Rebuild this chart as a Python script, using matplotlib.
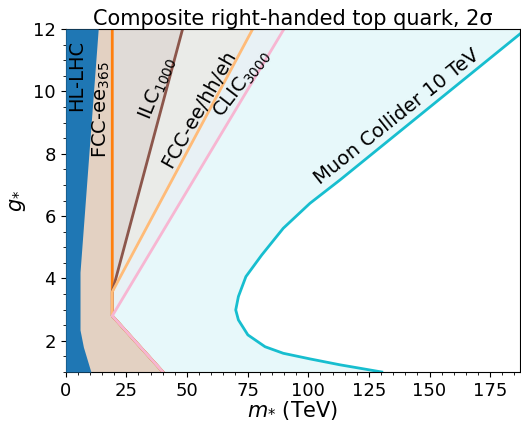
import matplotlib
matplotlib.use("Agg")
import matplotlib.pyplot as plt
from matplotlib.ticker import MultipleLocator

# HL-LHC exclusion boundary (m*, g*)
hllhc_m = [13.4, 5.9, 5.9, 7.3, 10.4]
hllhc_g = [12.0, 4.2, 2.35, 1.8, 1.0]
# FCC-ee 365
fcc365_m = [19.2, 19.2, 40.1]
fcc365_g = [12.0, 2.8, 1.0]
# ILC 1000
ilc_m = [48.2, 19.2, 19.2, 40.1]
ilc_g = [12.0, 3.57, 2.8, 1.0]
# FCC-ee/hh/eh
fcchh_m = [77.1, 19.2, 19.2, 40.1]
fcchh_g = [12.0, 3.57, 2.8, 1.0]
# CLIC 3000
clic_m = [90.0, 19.2, 40.1]
clic_g = [12.0, 2.8, 1.0]
# Muon collider 10 TeV
muon_m = [130.3, 113.1, 100.7, 89.7, 82.2, 75.1, 71.2, 70.1, 71.2, 74.3, 80.8, 89.7, 100.7, 113.1, 189.8]
muon_g = [1.0, 1.23, 1.42, 1.6, 1.81, 2.19, 2.67, 2.99, 3.42, 4.06, 4.75, 5.61, 6.41, 7.16, 12.0]

fig = plt.figure(figsize=(5.21, 4.21), dpi=100)
ax = fig.add_axes([0.1261, 0.1164, 0.8720, 0.8147])

curves = [
    (muon_m, muon_g, "#17becf"),
    (clic_m, clic_g, "#f7b6d2"),
    (fcchh_m, fcchh_g, "#ffbb78"),
    (ilc_m, ilc_g, "#8c564b"),
    (fcc365_m, fcc365_g, "#ff7f0e"),
]
for m, g, c in curves:
    ax.fill_betweenx(g, 0, m, color=c, alpha=0.1, lw=0)
for m, g, c in reversed(curves):
    ax.plot(m, g, color=c, lw=2)
ax.fill_betweenx(hllhc_g, 0, hllhc_m, color="#1f77b4", lw=0, zorder=3)

fs = 14
ax.text(4.5, 10.52, "HL-LHC", rotation=90, ha="center", va="center", fontsize=fs, zorder=5)
ax.text(14.8, 9.4, "FCC-ee$_{365}$", rotation=90, ha="center", va="center", fontsize=fs, zorder=5)
ax.text(37.9, 10.1, "ILC$_{1000}$", rotation=67.7, ha="center", va="center", fontsize=fs, zorder=5)
ax.text(55.0, 9.43, "FCC-ee/hh/eh", rotation=60.5, ha="center", va="center", fontsize=fs, zorder=5)
ax.text(72.7, 10.25, "CLIC$_{3000}$", rotation=52.4, ha="center", va="center", fontsize=fs, zorder=5)
ax.text(136.6, 9.18, "Muon Collider 10 TeV", rotation=38.5, ha="center", va="center", fontsize=fs, zorder=5)

ax.set_xlim(0, 187.3)
ax.set_ylim(1, 12)
ax.xaxis.set_major_locator(MultipleLocator(25))
ax.xaxis.set_minor_locator(MultipleLocator(5))
ax.yaxis.set_major_locator(MultipleLocator(2))
ax.yaxis.set_minor_locator(MultipleLocator(0.5))
ax.tick_params(labelsize=13)
ax.set_xlabel("$m_{*}$ (TeV)", fontsize=15, labelpad=0)
ax.set_ylabel("$g_{*}$", fontsize=15)
ax.set_title("Composite right-handed top quark, 2σ", fontsize=15, pad=3)

fig.savefig("out.png", dpi=100)
